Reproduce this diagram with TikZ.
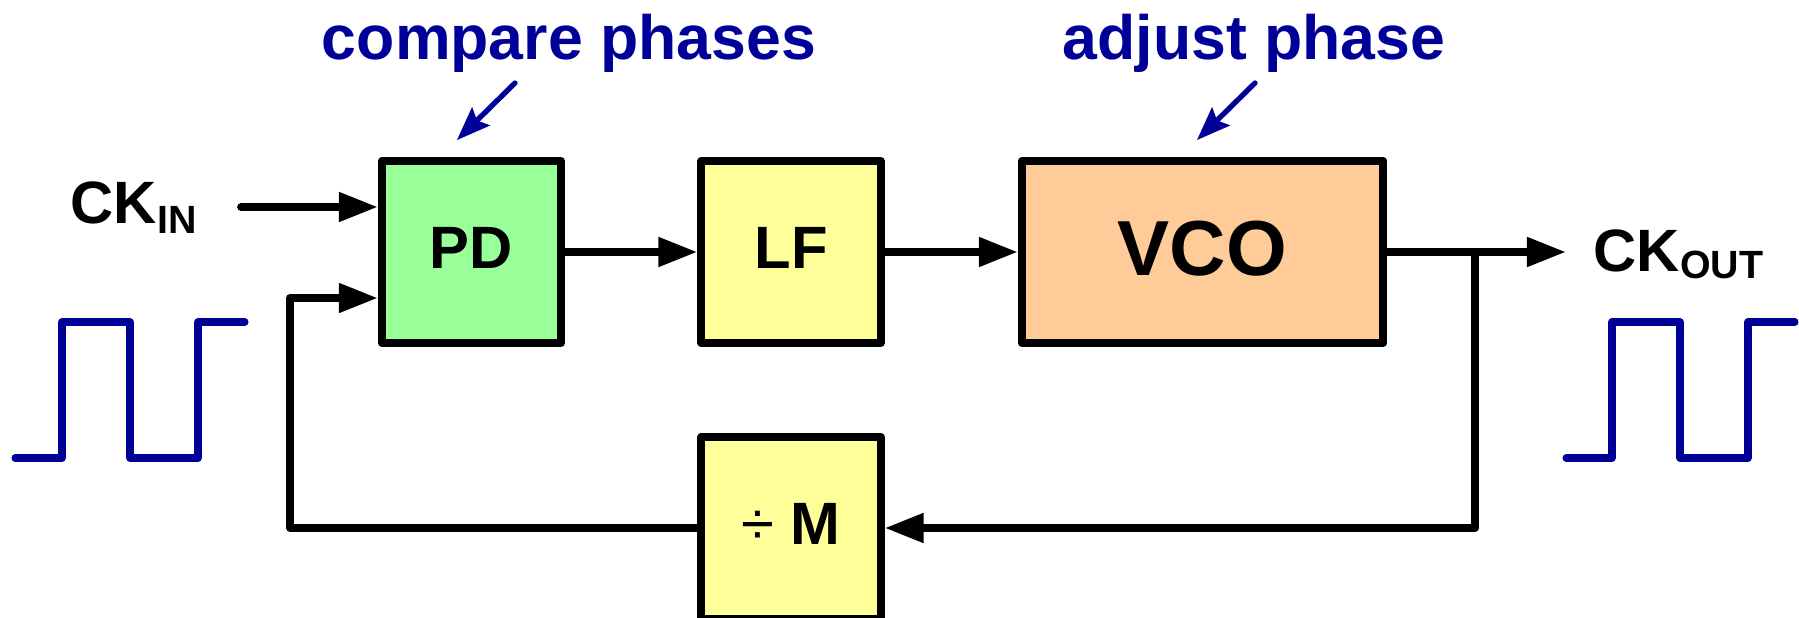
\documentclass[tikz,border=0pt]{standalone}
\usepackage{fontspec}
\setmainfont{Liberation Sans}
\usetikzlibrary{arrows.meta}
\definecolor{pdgreen}{HTML}{99FF99}
\definecolor{lfyellow}{HTML}{FFFF99}
\definecolor{vcoorange}{HTML}{FFCC99}
\definecolor{notenavy}{HTML}{000099}
\begin{document}
\begin{tikzpicture}[x=0.01cm, y=-0.01cm,
  block/.style={draw, line width=2.3pt, line join=round, minimum width=1.79cm,
    minimum height=1.82cm, inner sep=0pt, text depth=0.08cm,
    font=\bfseries\fontsize{17pt}{20pt}\selectfont},
  wire/.style={line width=2.2pt, line join=round, line cap=round},
  sig/.style={wire, -{Triangle[length=0.39cm, width=0.28cm]}},
  note/.style={text=notenavy, font=\bfseries\fontsize{17.8pt}{21pt}\selectfont,
    anchor=base, inner sep=0pt},
  pointer/.style={draw=notenavy, line width=1.5pt, line cap=round},
  pointerhead/.pic={\fill[notenavy] (0,0) -- (33.4,-14.6) -- (20,-19.6)
    -- (15.1,-33.1) -- cycle;},
  wave/.style={draw=notenavy, line width=2pt, line cap=round, line join=round},
  clk/.style={font=\bfseries\fontsize{17pt}{20pt}\selectfont, anchor=base west, inner sep=0pt}
]
\useasboundingbox (0,0) rectangle (1799,618);

% loop blocks
\node[block, fill=pdgreen] (pd) at (471.5,252) {PD};
\node[block, fill=lfyellow] (lf) at (791,252) {LF};
\node[block, fill=vcoorange, minimum width=3.61cm,
  font=\bfseries\fontsize{22.2pt}{26pt}\selectfont] (vco) at (1202.5,252) {VCO};
\node[block, fill=lfyellow] (div) at (791,528) {{\fontseries{m}\selectfont ÷} M};

% annotations with their pointers
\node[note] (cmp) at (569,59) {compare phases};
\node[note] (adj) at (1254,59) {adjust phase};
\coordinate (cmpfrom) at (515,83);
\coordinate (cmpneck) at (477,120.4);
\coordinate (cmpto) at (457,140);
\coordinate (adjfrom) at (1255,83);
\coordinate (adjneck) at (1217,120.4);
\coordinate (adjto) at (1197,140);
\draw[pointer] (cmpfrom) -- (cmpneck);
\pic at (cmpto) {pointerhead};
\draw[pointer] (adjfrom) -- (adjneck);
\pic at (adjto) {pointerhead};

% clock labels
\node[clk] (ckin) at (70,223) {CK\raisebox{-0.1cm}{\fontsize{11.2pt}{13pt}\selectfont IN}};
\node[clk] (ckout) at (1593,271) {CK\raisebox{-0.07cm}{\fontsize{11.2pt}{13pt}\selectfont OUT}};

% signal path
\coordinate (inp) at (241,207);
\coordinate (outp) at (1566,252);
\coordinate (split) at (1475,252);
\coordinate (fbk) at (290,298);
\draw[sig] (inp) -- (inp -| pd.west);
\draw[sig] (pd.east) -- (lf.west);
\draw[sig] (lf.east) -- (vco.west);
\draw[sig] (vco.east) -- (outp);
\draw[sig] (split) |- (div.east);
\draw[sig] (div.west) -| (fbk) -- (fbk -| pd.west);

% clock waveforms
\draw[wave] (15,458) -- (62,458) -- (62,322) -- (130,322) -- (130,458)
  -- (198,458) -- (198,322) -- (245,322);
\draw[wave] (1566,458) -- (1612,458) -- (1612,322) -- (1680,322) -- (1680,458)
  -- (1748,458) -- (1748,322) -- (1795,322);
\end{tikzpicture}
\end{document}
